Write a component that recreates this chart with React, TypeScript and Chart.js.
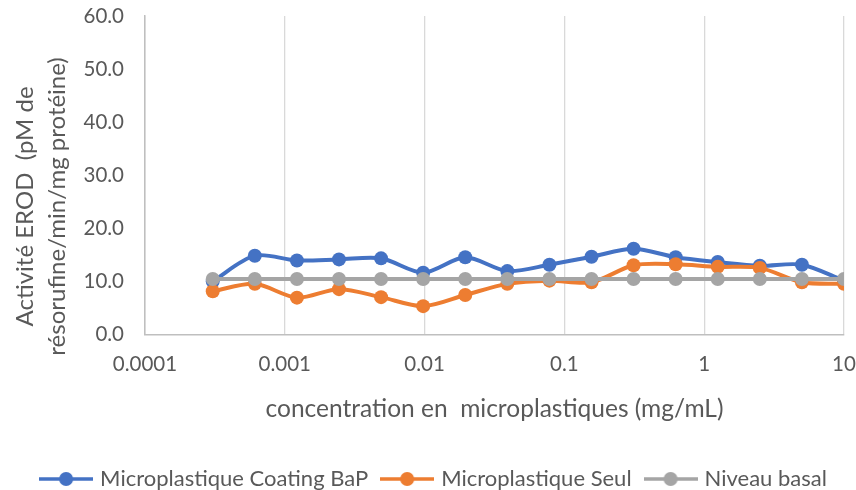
import React, { useEffect, useRef } from "react";
import { Chart, registerables } from "chart.js";

Chart.register(...registerables);

const concentrations = [0.0003052, 0.0006104, 0.001221, 0.002441, 0.004883, 0.009766, 0.01953, 0.03906, 0.07813, 0.1563, 0.3125, 0.625, 1.25, 2.5, 5, 10];
const coatingBaP = [10.1, 14.9, 14.0, 14.2, 14.4, 11.7, 14.6, 12.0, 13.2, 14.7, 16.2, 14.6, 13.7, 13.0, 13.2, 10.2];
const seul = [8.2, 9.6, 7.0, 8.6, 7.1, 5.4, 7.5, 9.6, 10.2, 9.9, 13.1, 13.3, 12.8, 12.6, 9.9, 9.6];
const basal = [10.5, 10.5, 10.5, 10.5, 10.5, 10.5, 10.5, 10.5, 10.5, 10.5, 10.5, 10.5, 10.5, 10.5, 10.5, 10.5];
const seriesNames = ["Microplastique Coating BaP", "Microplastique Seul", "Niveau basal"];
const seriesColors = ["#4472C4", "#ED7D31", "#A5A5A5"];
const xTicks = [0.0001, 0.001, 0.01, 0.1, 1, 10];
const xTickLabels = ["0.0001", "0.001", "0.01", "0.1", "1", "10"];
const xTitle = "concentration en  microplastiques (mg/mL)";
const yTitle = ["Activité EROD  (pM de", "résorufine/min/mg protéine)"];

const FONT = "Lato, 'Open Sans', sans-serif";
const TEXT = "#595959";

function legendIcon(color: string): HTMLCanvasElement {
  const c = document.createElement("canvas");
  c.width = 54;
  c.height = 16;
  const ctx = c.getContext("2d")!;
  ctx.strokeStyle = color;
  ctx.lineWidth = 3.5;
  ctx.beginPath();
  ctx.moveTo(0, 8);
  ctx.lineTo(54, 8);
  ctx.stroke();
  ctx.fillStyle = color;
  ctx.beginPath();
  ctx.arc(27, 8, 7, 0, Math.PI * 2);
  ctx.fill();
  return c;
}

const yTitlePlugin = {
  id: "yTitlePlugin",
  afterDraw(chart: any) {
    const { ctx, chartArea } = chart;
    const cy = (chartArea.top + chartArea.bottom) / 2 + 31;
    ctx.save();
    ctx.fillStyle = TEXT;
    ctx.font = `24px ${FONT}`;
    ctx.textAlign = "center";
    ctx.textBaseline = "middle";
    const xs = [chartArea.left - 120, chartArea.left - 88];
    yTitle.forEach((line, i) => {
      ctx.save();
      ctx.translate(xs[i], cy);
      ctx.rotate(-Math.PI / 2);
      ctx.fillText(line, 0, 0);
      ctx.restore();
    });
    ctx.restore();
  },
};

export default function App() {
  const ref = useRef<HTMLCanvasElement | null>(null);
  useEffect(() => {
    document.body.style.margin = "0";
    const all = [coatingBaP, seul, basal];
    const chart = new Chart(ref.current!, {
      type: "line",
      data: {
        datasets: all.map((vals, i) => ({
          label: seriesNames[i],
          data: vals.map((v, j) => ({ x: concentrations[j], y: v })),
          borderColor: seriesColors[i],
          backgroundColor: seriesColors[i],
          borderWidth: 4,
          pointRadius: 7,
          pointHoverRadius: 7,
          pointBorderWidth: 0,
          tension: 0.3,
          order: 3 - i,
        })),
      },
      plugins: [yTitlePlugin],
      options: {
        animation: false,
        responsive: false,
        maintainAspectRatio: false,
        layout: { padding: { left: 16, right: 2, top: 7, bottom: -10 } },
        plugins: {
          tooltip: { enabled: false },
          legend: {
            position: "bottom",
            labels: {
              usePointStyle: true,
              pointStyleWidth: 46,
              color: TEXT,
              font: { family: FONT, size: 22 },
              padding: 16,
              generateLabels: (ch: any) =>
                ch.data.datasets.map((ds: any, i: number) => ({
                  text: ds.label,
                  fillStyle: seriesColors[i],
                  strokeStyle: seriesColors[i],
                  fontColor: TEXT,
                  pointStyle: legendIcon(seriesColors[i]),
                  datasetIndex: i,
                  hidden: false,
                  lineWidth: 0,
                })),
            },
          },
        },
        scales: {
          x: {
            type: "logarithmic",
            min: 0.0001,
            max: 10,
            afterBuildTicks: (scale: any) => {
              scale.ticks = xTicks.map((v) => ({ value: v }));
            },
            afterFit: (scale: any) => {
              scale.paddingRight = 12;
              scale.paddingLeft = 0;
            },
            ticks: {
              color: TEXT,
              font: { family: FONT, size: 20.5, lineHeight: 0.67 },
              padding: 23,
              maxRotation: 0,
              autoSkip: false,
              callback: (v: any) => {
                const idx = xTicks.findIndex((t) => Math.abs(t - Number(v)) / t < 1e-6);
                return idx >= 0 ? xTickLabels[idx] : "";
              },
            },
            grid: { color: "#D9D9D9", lineWidth: 1.3, drawTicks: false },
            border: { display: true, color: "#BFBFBF", width: 1.5 },
            title: {
              display: true,
              text: xTitle,
              color: TEXT,
              font: { family: FONT, size: 24.5 },
              padding: { top: 0, bottom: 28 },
            },
          },
          y: {
            min: 0,
            max: 60,
            afterFit: (scale: any) => {
              scale.width = 129;
              scale.paddingTop = 16;
              scale.paddingBottom = 0;
            },
            ticks: {
              stepSize: 10,
              color: TEXT,
              font: { family: FONT, size: 20.5 },
              padding: 21,
              callback: (v: any) => Number(v).toFixed(1),
            },
            grid: { display: false, drawTicks: false },
            border: { display: true, color: "#BFBFBF", width: 1.5 },
          },
        },
      },
    } as any);
    return () => chart.destroy();
  }, []);
  return (
    <div style={{ width: 856, height: 490, background: "#fff" }}>
      <canvas ref={ref} width={856} height={490} style={{ display: "block" }} />
    </div>
  );
}
